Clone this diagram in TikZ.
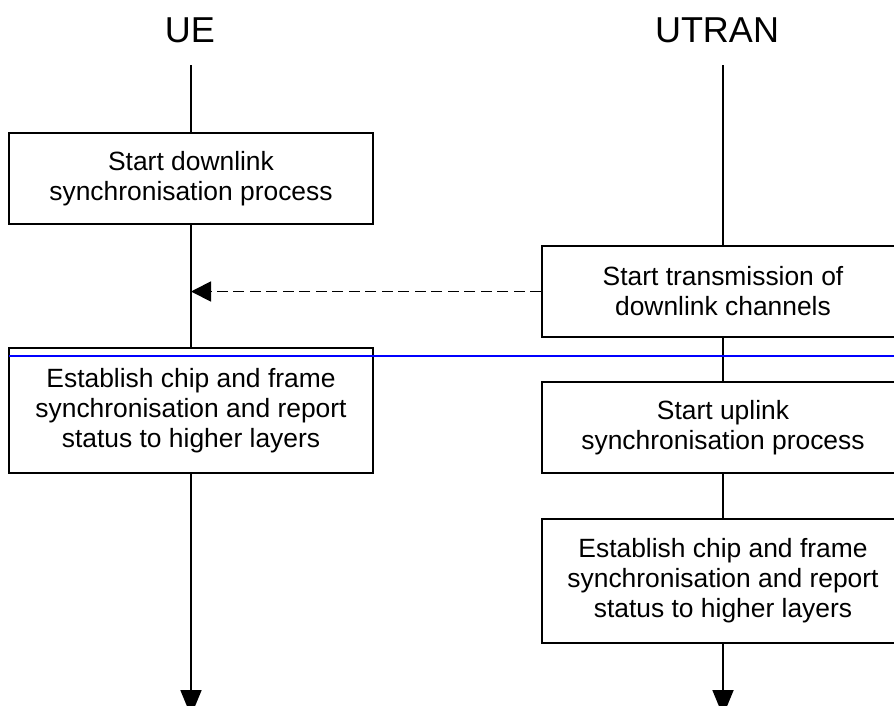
\documentclass[tikz,border=0pt]{standalone}
\usepackage{fontspec}
\setmainfont{Liberation Sans}
\usetikzlibrary{arrows.meta}
\begin{document}
\begin{tikzpicture}[x=1pt,y=-1pt]
    \tikzstyle{entity}=[font=\fontsize{36}{40}\selectfont, anchor=base, inner sep=0pt]
    \tikzstyle{procbox}=[draw, line width=1.8pt, fill=white, align=center, inner sep=0pt,
                         font=\fontsize{26.4}{30}\selectfont]
    \tikzstyle{life}=[line width=1.8pt]
    \tikzstyle{endarrow}=[-{Triangle[length=26pt,width=21pt]}]
    \clip (0,0) rectangle (894,705);

    \node[entity] (ue)    at (190,42) {UE};
    \node[entity] (utran) at (717,42) {UTRAN};
    \coordinate (uetop)    at (191,65);
    \coordinate (utrantop) at (723,65);
    \coordinate (ueend)    at (191,716);
    \coordinate (utranend) at (723,716);

    \node[procbox, minimum width=364, minimum height=91]  (dlsync)    at (191,178.5)
        {Start downlink\\synchronisation process};
    \node[procbox, minimum width=362, minimum height=91]  (txdl)      at (723,291.5)
        {Start transmission of\\downlink channels};
    \node[procbox, minimum width=364, minimum height=125] (uesync)    at (191,410.5)
        {Establish chip and frame\\synchronisation and report\\status to higher layers};
    \node[procbox, minimum width=362, minimum height=91]  (ulsync)    at (723,427.5)
        {Start uplink\\synchronisation process};
    \node[procbox, minimum width=362, minimum height=124] (utransync) at (723,581)
        {Establish chip and frame\\synchronisation and report\\status to higher layers};

    \draw[life] (uetop) -- (dlsync.north)
                (dlsync.south) -- (uesync.north);
    \draw[life,endarrow] (uesync.south) -- (ueend);

    \draw[life] (utrantop) -- (txdl.north)
                (txdl.south) -- (ulsync.north)
                (ulsync.south) -- (utransync.north);
    \draw[life,endarrow] (utransync.south) -- (utranend);

    \draw[life, dash pattern=on 11pt off 5.5pt, -{Triangle[length=20pt,width=20pt]}]
        (txdl.west) -- (txdl.west -| uetop);

    \coordinate (markl) at (9,356);
    \coordinate (markr) at (894,356);
    \draw[blue, line width=1.6pt] (markl) -- (markr);
\end{tikzpicture}
\end{document}
